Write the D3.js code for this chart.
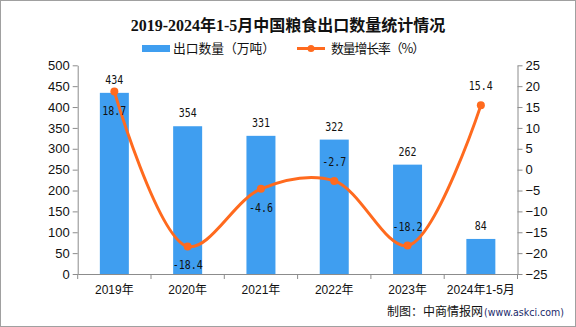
<!DOCTYPE html>
<html><head><meta charset="utf-8">
<script src="https://cdn.jsdelivr.net/npm/d3@7/dist/d3.min.js"></script>
<style>body{margin:0;background:#fff}svg{display:block}</style>
</head><body>
<svg id="c" width="576" height="327"></svg>
<script>
const categories = ["2019年","2020年","2021年","2022年","2023年","2024年1-5月"];
const exportVolume = [434,354,331,322,262,84];
const growthRate = [18.7,-18.4,-4.6,-2.7,-18.2,15.4];
const leftTicks = [0,50,100,150,200,250,300,350,400,450,500];
const rightTicks = [-25,-20,-15,-10,-5,0,5,10,15,20,25];
const growthLabelAbove = [false,false,false,true,true,true];

const svg = d3.select("#c");
const W=576,H=327;
const m={l:77.7,r:517.5,t:65.3,b:274};
const serif = "'Liberation Serif','DejaVu Serif','Noto Sans CJK SC',serif";
const sans = "'Liberation Sans',Arial,'Noto Sans CJK SC',sans-serif";
const cjk = "'Noto Sans CJK SC',sans-serif";
const mono = "'DejaVu Sans Mono','Liberation Mono',monospace";
const barColor = "#3f9ef0", lineColor = "#ff6a1e", axisColor="#8c8c8c";

svg.append("rect").attr("x",0.5).attr("y",0.5).attr("width",W-1).attr("height",H-1).attr("fill","#fff").attr("stroke","#a0a0a0");

const xb = d3.scaleBand().domain(categories).range([m.l,m.r]);
const yL = d3.scaleLinear().domain([0,500]).range([m.b,m.t]);
const yR = d3.scaleLinear().domain([-25,25]).range([m.b,m.t]);

// title
svg.append("text").attr("x",288).attr("y",31).attr("text-anchor","middle")
  .attr("font-family",serif).attr("font-weight","bold").attr("font-size",16).attr("fill","#111")
  .text("2019-2024年1-5月中国粮食出口数量统计情况");

// legend
const lg = svg.append("g").attr("font-family",cjk).attr("font-size",12.8).attr("fill","#111");
lg.append("rect").attr("x",142).attr("y",45).attr("width",28).attr("height",7).attr("fill",barColor);
lg.append("text").attr("x",173).attr("y",53).attr("textLength",102).attr("lengthAdjust","spacing").text("出口数量（万吨）");
lg.append("line").attr("x1",297).attr("x2",325).attr("y1",48.5).attr("y2",48.5).attr("stroke",lineColor).attr("stroke-width",3);
lg.append("circle").attr("cx",311).attr("cy",48.5).attr("r",3.5).attr("fill",lineColor);
lg.append("text").attr("x",331).attr("y",53).attr("textLength",94).attr("lengthAdjust","spacing").text("数量增长率（%）");

// bars
svg.append("g").selectAll("rect").data(exportVolume).join("rect")
  .attr("x",(d,i)=>xb(categories[i])+xb.bandwidth()/2-14.5).attr("width",29)
  .attr("y",d=>yL(d)).attr("height",d=>m.b-yL(d)).attr("fill",barColor);

// axes
function styleAxis(g,fs){
  g.selectAll("path,line").attr("stroke",axisColor);
  g.selectAll("text").attr("font-family",sans).attr("font-size",fs).attr("fill","#111");
}
const axL = svg.append("g").attr("transform",`translate(${m.l},0)`)
  .call(d3.axisLeft(yL).tickValues(leftTicks).tickSize(5).tickSizeOuter(0).tickPadding(3));
styleAxis(axL,13);
const axR = svg.append("g").attr("transform",`translate(${m.r},0)`)
  .call(d3.axisRight(yR).tickValues(rightTicks).tickSize(5).tickSizeOuter(0).tickPadding(3).tickFormat(d=>d<0?"\u2212"+Math.abs(d):d));
styleAxis(axR,13);
const axB = svg.append("g").attr("transform",`translate(0,${m.b})`)
  .call(d3.axisBottom(xb).tickSize(0).tickPadding(11));
styleAxis(axB,12);
axB.selectAll(".sep").data(d3.range(categories.length+1)).join("line")
  .attr("x1",i=>m.l+i*xb.bandwidth()).attr("x2",i=>m.l+i*xb.bandwidth())
  .attr("y1",0).attr("y2",5).attr("stroke",axisColor);

// bar labels
svg.append("g").selectAll("text").data(exportVolume).join("text")
  .attr("x",(d,i)=>xb(categories[i])+xb.bandwidth()/2).attr("y",d=>yL(d)-9)
  .attr("text-anchor","middle").attr("font-family",mono).attr("font-size",12).attr("fill","#111")
  .attr("textLength",d=>String(d).length*6).attr("lengthAdjust","spacingAndGlyphs")
  .text(d=>d);

// line
const pts = growthRate.map((d,i)=>[xb(categories[i])+xb.bandwidth()/2, yR(d)]);
svg.append("path").attr("d",d3.line().curve(d3.curveCatmullRom.alpha(0.5))(pts))
  .attr("fill","none").attr("stroke",lineColor).attr("stroke-width",3);
svg.append("g").selectAll("circle").data(pts).join("circle")
  .attr("cx",d=>d[0]).attr("cy",d=>d[1]).attr("r",4).attr("fill",lineColor);

// growth labels
svg.append("g").selectAll("text").data(growthRate).join("text")
  .attr("x",(d,i)=>pts[i][0]).attr("y",(d,i)=>growthLabelAbove[i]?pts[i][1]-15:pts[i][1]+23)
  .attr("text-anchor","middle").attr("font-family",mono).attr("font-size",12).attr("fill","#111")
  .attr("textLength",d=>String(d).length*6).attr("lengthAdjust","spacingAndGlyphs")
  .text(d=>d);

// footer
svg.append("text").attr("x",387).attr("y",316).attr("fill","#111")
  .attr("font-family",cjk).attr("font-size",12).attr("textLength",96).attr("lengthAdjust","spacing")
  .text("制图：中商情报网");
svg.append("text").attr("x",484).attr("y",316).attr("fill","#1a2a6a")
  .attr("font-family","'DejaVu Sans',sans-serif").attr("font-size",10.5)
  .attr("textLength",80).attr("lengthAdjust","spacingAndGlyphs")
  .text("(www.askci.com)");
</script>
</body></html>
